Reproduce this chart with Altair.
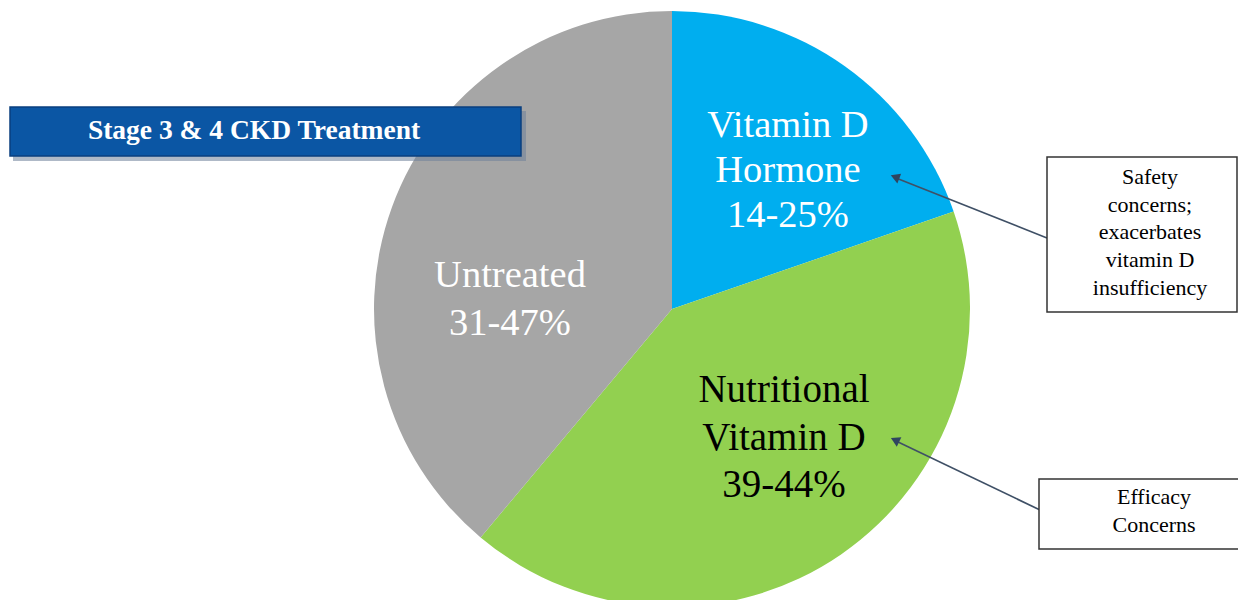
import altair as alt
import pandas as pd

# Data
categories = ["Vitamin D Hormone", "Nutritional Vitamin D", "Untreated"]
shares = [19.7, 41.4, 38.9]
slice_labels = ["Vitamin D\nHormone\n14-25%", "Nutritional\nVitamin D\n39-44%", "Untreated\n31-47%"]
colors = ["#00aeef", "#92d050", "#a6a6a6"]
title_text = "Stage 3 & 4 CKD Treatment"
note1 = "Safety\nconcerns;\nexacerbates\nvitamin D\ninsufficiency"
note2 = "Efficacy\nConcerns"

df = pd.DataFrame({"cat": categories, "share": shares, "order": [0, 1, 2]})
one = pd.DataFrame({"k": [0]})

SERIF = "Liberation Serif"
CX, CY, R = 664, 301, 298

pie = alt.Chart(df).mark_arc(outerRadius=R).encode(
    theta=alt.Theta("share:Q", stack=True),
    order=alt.Order("order:Q"),
    color=alt.Color("cat:N", scale=alt.Scale(domain=categories, range=colors), legend=None),
    x=alt.value(CX), y=alt.value(CY),
)

def txt(text, x, y, size, color, lh, weight="normal"):
    return alt.Chart(one).mark_text(
        text=text.split("\n"), font=SERIF, fontSize=size, color=color,
        lineHeight=lh, align="center", baseline="middle", fontWeight=weight,
    ).encode(x=alt.value(x), y=alt.value(y))

def rect(x, x2, y, y2, fill, stroke=None, sw=0, opacity=1.0):
    kw = dict(fill=fill, opacity=opacity)
    if stroke:
        kw.update(stroke=stroke, strokeWidth=sw)
    return alt.Chart(one).mark_rect(**kw).encode(
        x=alt.value(x), x2=alt.value(x2), y=alt.value(y), y2=alt.value(y2))

def line(x, y, x2, y2):
    return alt.Chart(one).mark_rule(color="#3f5066", strokeWidth=1.6).encode(
        x=alt.value(x), y=alt.value(y), x2=alt.value(x2), y2=alt.value(y2))

def head(x, y, ang):
    return alt.Chart(one).mark_point(shape="triangle-up", filled=True, color="#2f4560",
                                     size=110, angle=ang, opacity=1).encode(
        x=alt.value(x), y=alt.value(y))

lbl1 = txt(slice_labels[0], 780, 117, 38.5, "white", 45)
lbl2 = txt(slice_labels[1], 776, 382, 39, "black", 47.5)
lbl3 = txt(slice_labels[2], 502, 267, 38.5, "white", 48)

shadow = rect(5, 518, 103, 153, "#6d7f99", opacity=0.55)
tbox = rect(2, 513, 99, 148, "#0b56a4", stroke="#0a3f7f", sw=1.5)
ttext = txt(title_text, 246, 123, 27.5, "white", 28, weight="bold")

box1 = rect(1039, 1229, 149, 304, "white", stroke="#333333", sw=1.5)
box2 = rect(1031, 1245, 471, 541, "white", stroke="#333333", sw=1.5)
n1 = txt(note1, 1142, 169, 22, "black", 27.7)
n2 = txt(note2, 1146, 489, 22, "black", 28)

a1 = line(1039, 230, 888, 170)
h1 = head(887, 169, 291)
a2 = line(1032, 502, 888, 433)
h2 = head(887, 432, 296)

chart = alt.layer(pie, lbl1, lbl2, lbl3, shadow, tbox, ttext, a1, a2, box1, box2, n1, n2, h1, h2).properties(
    width=1230, height=592, padding=0,
    autosize=alt.AutoSizeParams(type="none"),
).configure(
    background="white",
    view=alt.ViewConfig(strokeWidth=0, stroke="transparent"),
)

chart.save("out.html", embed_options={"renderer": "svg", "actions": False})
